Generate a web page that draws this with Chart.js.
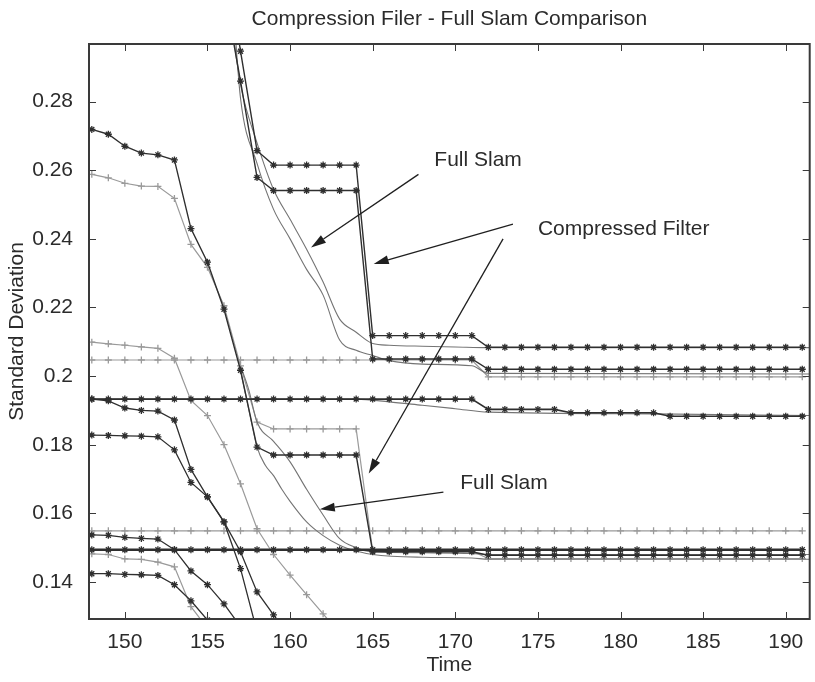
<!DOCTYPE html>
<html>
<head>
<meta charset="utf-8">
<title>Compression Filer - Full Slam Comparison</title>
<script src="https://cdn.jsdelivr.net/npm/chart.js@4.4.1/dist/chart.umd.min.js"></script>
<style>
    html, body { margin: 0; padding: 0; background: #fff; }
</style>
</head>
<body>
<canvas id="slamChart" width="815" height="682"></canvas>
<script>
// Time steps where the filters log a value (one marker per step)
const steps = [148, 149, 150, 151, 152, 153, 154, 155, 156, 157, 158, 159, 160, 161, 162, 163, 164, 165, 166, 167, 168, 169,
    170, 171, 172, 173, 174, 175, 176, 177, 178, 179, 180, 181, 182, 183, 184, 185, 186, 187, 188, 189, 190, 191];

// Compressed filter, dark traces (values aligned with steps, null = not shown)
const cfUpper1 = [null, null, null, null, null, null, null, null, 0.326, 0.2947, 0.2657,
    0.2615, 0.2615, 0.2615, 0.2615, 0.2615, 0.2615,
    0.2118, 0.2118, 0.2118, 0.2118, 0.2118, 0.2118, 0.2118,
    0.2084, 0.2084, 0.2084, 0.2084, 0.2084, 0.2084, 0.2084, 0.2084, 0.2084, 0.2084,
    0.2084, 0.2084, 0.2084, 0.2084, 0.2084, 0.2084, 0.2084, 0.2084, 0.2084, 0.2084];
const cfUpper2 = [null, null, null, null, null, null, null, null, 0.313, 0.2860, 0.2579,
    0.2541, 0.2541, 0.2541, 0.2541, 0.2541, 0.2541,
    0.2050, 0.2050, 0.2050, 0.2050, 0.2050, 0.2050, 0.2050,
    0.2020, 0.2020, 0.2020, 0.2020, 0.2020, 0.2020, 0.2020, 0.2020, 0.2020, 0.2020,
    0.2020, 0.2020, 0.2020, 0.2020, 0.2020, 0.2020, 0.2020, 0.2020, 0.2020, 0.2020];
const cfDropA = [0.2719, 0.2705, 0.2670, 0.2650, 0.2645, 0.2630, 0.2430, 0.2332, 0.2195, 0.2017, 0.1793,
    0.1770, 0.1770, 0.1770, 0.1770, 0.1770, 0.1770,
    0.1488, 0.1488, 0.1488, 0.1488, 0.1488, 0.1488, 0.1488,
    0.1478, 0.1478, 0.1478, 0.1478, 0.1478, 0.1478, 0.1478, 0.1478, 0.1478, 0.1478,
    0.1478, 0.1478, 0.1478, 0.1478, 0.1478, 0.1478, 0.1478, 0.1478, 0.1478, 0.1478];
const cfLevel193 = [0.1933, 0.1933, 0.1933, 0.1933, 0.1933, 0.1933, 0.1933, 0.1933, 0.1933, 0.1933, 0.1933, 0.1933,
    0.1933, 0.1933, 0.1933, 0.1933, 0.1933, 0.1933, 0.1933, 0.1933, 0.1933, 0.1933, 0.1933, 0.1933,
    0.1903, 0.1903, 0.1903, 0.1903, 0.1903,
    0.1893, 0.1893, 0.1893, 0.1893, 0.1893, 0.1893,
    0.1883, 0.1883, 0.1883, 0.1883, 0.1883, 0.1883, 0.1883, 0.1883, 0.1883];
const cfLevel149 = [0.1494, 0.1494, 0.1494, 0.1494, 0.1494, 0.1494, 0.1494, 0.1494, 0.1494, 0.1494, 0.1494,
    0.1494, 0.1494, 0.1494, 0.1494, 0.1494, 0.1494, 0.1494, 0.1494, 0.1494, 0.1494, 0.1494,
    0.1494, 0.1494, 0.1494, 0.1494, 0.1494, 0.1494, 0.1494, 0.1494, 0.1494, 0.1494, 0.1494,
    0.1494, 0.1494, 0.1494, 0.1494, 0.1494, 0.1494, 0.1494, 0.1494, 0.1494, 0.1494, 0.1494];
const cfFall183 = [0.1828, 0.1827, 0.1826, 0.1825, 0.1823, 0.1785, 0.1690, 0.1648, 0.1575, 0.1488, 0.1371, 0.1304, 0.1240];
const cfFall193 = [0.1933, 0.1928, 0.1907, 0.1900, 0.1898, 0.1872, 0.1728, 0.1648, 0.1575, 0.1439, 0.1255];
const cfFall154 = [0.1537, 0.1536, 0.1530, 0.1527, 0.1525, 0.1494, 0.1432, 0.1392, 0.1336, 0.1270];
const cfFall142 = [0.1424, 0.1424, 0.1422, 0.1421, 0.1419, 0.1392, 0.1345, 0.1289, 0.1230];

// Compressed filter, grey traces
const cfDropB = [0.2588, 0.2578, 0.2562, 0.2554, 0.2553, 0.2518, 0.2384, 0.2317, 0.2205, 0.2030, 0.1866,
    0.1846, 0.1846, 0.1846, 0.1846, 0.1846, 0.1846,
    0.1490, 0.1490, 0.1490, 0.1490, 0.1490, 0.1490, 0.1490,
    0.1468, 0.1468, 0.1468, 0.1468, 0.1468, 0.1468, 0.1468, 0.1468, 0.1468, 0.1468,
    0.1468, 0.1468, 0.1468, 0.1468, 0.1468, 0.1468, 0.1468, 0.1468, 0.1468, 0.1468];
const cfLevel205 = [0.2047, 0.2047, 0.2047, 0.2047, 0.2047, 0.2047, 0.2047, 0.2047, 0.2047, 0.2047, 0.2047, 0.2047,
    0.2047, 0.2047, 0.2047, 0.2047, 0.2047, 0.2047, 0.2047, 0.2047, 0.2047, 0.2047, 0.2047, 0.2047,
    0.1998, 0.1998, 0.1998, 0.1998, 0.1998, 0.1998, 0.1998, 0.1998, 0.1998, 0.1998,
    0.1998, 0.1998, 0.1998, 0.1998, 0.1998, 0.1998, 0.1998, 0.1998, 0.1998, 0.1998];
const cfLevel155 = [0.1549, 0.1549, 0.1549, 0.1549, 0.1549, 0.1549, 0.1549, 0.1549, 0.1549, 0.1549, 0.1549,
    0.1549, 0.1549, 0.1549, 0.1549, 0.1549, 0.1549, 0.1549, 0.1549, 0.1549, 0.1549, 0.1549,
    0.1549, 0.1549, 0.1549, 0.1549, 0.1549, 0.1549, 0.1549, 0.1549, 0.1549, 0.1549, 0.1549,
    0.1549, 0.1549, 0.1549, 0.1549, 0.1549, 0.1549, 0.1549, 0.1549, 0.1549, 0.1549, 0.1549];
const cfFall210 = [0.2099, 0.2094, 0.2090, 0.2085, 0.2081, 0.2052, 0.1929, 0.1885, 0.1800, 0.1686, 0.1555,
    0.1480, 0.1420, 0.1363, 0.1307, 0.1250];
const cfFall148 = [0.1482, 0.1480, 0.1467, 0.1466, 0.1458, 0.1444, 0.1328, 0.1265, 0.1200];

// Full SLAM, smooth traces without markers (own time bases)
const fsTimeA = [156.4, 157, 158, 159, 160, 161, 162, 163, 164, 165, 166, 168, 170, 172, 191.5];
const fsStdA = [0.305, 0.2850, 0.2680, 0.2544, 0.2457, 0.2370, 0.2274, 0.2166, 0.2128, 0.2095, 0.2090, 0.2087, 0.2085, 0.2083, 0.2083];
const fsTimeB = [156.6, 157, 158, 159, 160, 161, 162, 163, 164, 165, 166, 168, 171, 172, 191.5];
const fsStdB = [0.305, 0.2810, 0.2620, 0.2486, 0.2400, 0.2311, 0.2236, 0.2105, 0.2075, 0.2060, 0.2045, 0.2035, 0.2030, 0.2008, 0.2006];
const fsTimeC = [157, 157.5, 158, 159, 160, 161, 162, 163, 164, 165, 168, 171, 172, 191.5];
const fsStdC = [0.2030, 0.1960, 0.1866, 0.1810, 0.1750, 0.1670, 0.1595, 0.1526, 0.1500, 0.1488, 0.1485, 0.1483, 0.1480, 0.1480];
const fsTimeD = [157, 157.6, 158, 158.5, 159, 159.5, 160, 161, 162, 163, 164, 165, 168, 171, 172, 191.5];
const fsStdD = [0.2017, 0.1880, 0.1793, 0.1740, 0.1710, 0.1670, 0.1635, 0.1575, 0.1535, 0.1507, 0.1490, 0.1480, 0.1472, 0.1470, 0.1466, 0.1466];
const fsTimeE = [147.8, 164, 166, 168, 170, 172, 182, 191.5];
const fsStdE = [0.1933, 0.1933, 0.1925, 0.1915, 0.1905, 0.1895, 0.1890, 0.1885];

// Axis ticks
const xTicks = [150, 155, 160, 165, 170, 175, 180, 185, 190];
const yTicks = [0.14, 0.16, 0.18, 0.2, 0.22, 0.24, 0.26, 0.28];

// Callout labels and arrows, in data units
const titleText = 'Compression Filer - Full Slam Comparison';
const noteText = ['Full Slam', 'Compressed Filter', 'Full Slam'];
const noteAt = [[168.73, 0.2629], [175.0, 0.2428], [170.3, 0.1689]];
const arrowFrom = [[167.77, 0.2588], [173.49, 0.2443], [172.89, 0.2400], [169.28, 0.1662]];
const arrowTo = [[161.27, 0.2375], [165.06, 0.2327], [164.76, 0.1716], [161.8, 0.1612]];

const DARK = '#2f2f2f';
const GREY = '#9a9a9a';
const SLAM = '#747474';
const INK = '#2b2b2b';
const FONT = '"Liberation Sans", Arial, sans-serif';

function markerSeries(values, color, width, style) {
    return {
        data: values.map((v, i) => ({ x: steps[i], y: v })),
        borderColor: color,
        backgroundColor: color,
        borderWidth: width,
        pointStyle: style,
        pointRadius: 3.5,
        pointBorderWidth: 1.3,
        pointBorderColor: color,
        tension: 0,
        spanGaps: false,
        clip: 0
    };
}

function slamSeries(times, values, color) {
    return {
        data: values.map((v, i) => ({ x: times[i], y: v })),
        borderColor: color,
        borderWidth: 1.1,
        pointRadius: 0,
        cubicInterpolationMode: 'monotone',
        clip: 0
    };
}

// frame with inward ticks on all four sides (matlab style box), title centred on the axes
const frameTicks = {
    id: 'frameTicks',
    afterDraw(chart) {
        const { ctx, chartArea: a, scales: { x, y } } = chart;
        ctx.save();
        ctx.strokeStyle = '#3a3a3a';
        ctx.lineWidth = 1;
        ctx.beginPath();
        x.ticks.forEach(t => {
            const px = Math.round(x.getPixelForValue(t.value)) + 0.5;
            ctx.moveTo(px, a.bottom); ctx.lineTo(px, a.bottom - 7);
            ctx.moveTo(px, a.top); ctx.lineTo(px, a.top + 7);
        });
        y.ticks.forEach(t => {
            const py = Math.round(y.getPixelForValue(t.value)) + 0.5;
            ctx.moveTo(a.left, py); ctx.lineTo(a.left + 7, py);
            ctx.moveTo(a.right, py); ctx.lineTo(a.right - 7, py);
        });
        ctx.stroke();
        ctx.lineWidth = 2;
        ctx.strokeRect(a.left, a.top, a.right - a.left, a.bottom - a.top);

        ctx.font = '21px ' + FONT;
        ctx.fillStyle = INK;
        ctx.textAlign = 'center';
        ctx.textBaseline = 'middle';
        ctx.fillText(titleText, (a.left + a.right) / 2, a.top - 25);
        ctx.restore();
    }
};

// text callouts + arrows
const callouts = {
    id: 'callouts',
    afterDatasetsDraw(chart) {
        const { ctx, scales: { x, y } } = chart;
        ctx.save();
        ctx.font = '21px ' + FONT;
        ctx.fillStyle = INK;
        ctx.textAlign = 'left';
        ctx.textBaseline = 'middle';
        noteText.forEach((txt, i) => {
            ctx.fillText(txt, x.getPixelForValue(noteAt[i][0]), y.getPixelForValue(noteAt[i][1]));
        });
        ctx.strokeStyle = '#1f1f1f';
        ctx.lineWidth = 1.3;
        arrowFrom.forEach((p, i) => {
            const x0 = x.getPixelForValue(p[0]), y0 = y.getPixelForValue(p[1]);
            const x1 = x.getPixelForValue(arrowTo[i][0]), y1 = y.getPixelForValue(arrowTo[i][1]);
            const ang = Math.atan2(y1 - y0, x1 - x0);
            const len = 15, half = 4.5;
            const bx = x1 - len * Math.cos(ang), by = y1 - len * Math.sin(ang);
            ctx.beginPath();
            ctx.moveTo(x0, y0);
            ctx.lineTo(bx, by);
            ctx.stroke();
            ctx.beginPath();
            ctx.moveTo(x1, y1);
            ctx.lineTo(bx + half * Math.sin(ang), by - half * Math.cos(ang));
            ctx.lineTo(bx - half * Math.sin(ang), by + half * Math.cos(ang));
            ctx.closePath();
            ctx.fillStyle = '#1f1f1f';
            ctx.fill();
        });
        ctx.restore();
    }
};

const ctx = document.getElementById('slamChart').getContext('2d');

new Chart(ctx, {
    type: 'line',
    data: {
        datasets: [
            markerSeries(cfUpper1, DARK, 1.4, 'star'),
            markerSeries(cfUpper2, DARK, 1.4, 'star'),
            markerSeries(cfDropA, DARK, 1.4, 'star'),
            markerSeries(cfLevel193, DARK, 1.6, 'star'),
            markerSeries(cfLevel149, DARK, 2.4, 'star'),
            markerSeries(cfFall183, DARK, 1.3, 'star'),
            markerSeries(cfFall193, DARK, 1.3, 'star'),
            markerSeries(cfFall154, DARK, 1.3, 'star'),
            markerSeries(cfFall142, DARK, 1.3, 'star'),
            slamSeries(fsTimeA, fsStdA, SLAM),
            slamSeries(fsTimeB, fsStdB, SLAM),
            slamSeries(fsTimeC, fsStdC, SLAM),
            slamSeries(fsTimeD, fsStdD, SLAM),
            slamSeries(fsTimeE, fsStdE, SLAM),
            markerSeries(cfDropB, GREY, 1.2, 'cross'),
            markerSeries(cfLevel205, GREY, 1.2, 'cross'),
            markerSeries(cfLevel155, GREY, 1.2, 'cross'),
            markerSeries(cfFall210, GREY, 1.2, 'cross'),
            markerSeries(cfFall148, GREY, 1.2, 'cross')
        ]
    },
    options: {
        responsive: false,
        animation: false,
        events: [],
        layout: { padding: { left: 0, right: 2, top: 44, bottom: 0 } },
        plugins: {
            legend: { display: false },
            tooltip: { enabled: false },
            title: { display: false }
        },
        scales: {
            x: {
                type: 'linear',
                min: 147.83,
                max: 191.45,
                afterBuildTicks: scale => { scale.ticks = xTicks.map(v => ({ value: v })); },
                afterFit: scale => { scale.height = 63; },
                grid: { display: false },
                border: { display: false },
                ticks: {
                    color: INK,
                    font: { family: FONT, size: 21 },
                    padding: 3,
                    maxRotation: 0,
                    callback: v => String(v)
                },
                title: {
                    display: true,
                    text: 'Time',
                    color: INK,
                    font: { family: FONT, size: 21 },
                    padding: { top: 0, bottom: 4 }
                }
            },
            y: {
                type: 'linear',
                min: 0.1292,
                max: 0.2968,
                afterBuildTicks: scale => { scale.ticks = yTicks.map(v => ({ value: v })); },
                afterFit: scale => { scale.width = 89; },
                grid: { display: false },
                border: { display: false },
                ticks: {
                    color: INK,
                    font: { family: FONT, size: 21 },
                    padding: 8,
                    callback: v => String(Number(v.toFixed(2)))
                },
                title: {
                    display: true,
                    text: 'Standard Deviation',
                    color: INK,
                    font: { family: FONT, size: 21 },
                    padding: { top: 5, bottom: 0 }
                }
            }
        }
    },
    plugins: [callouts, frameTicks]
});
</script>
</body>
</html>
